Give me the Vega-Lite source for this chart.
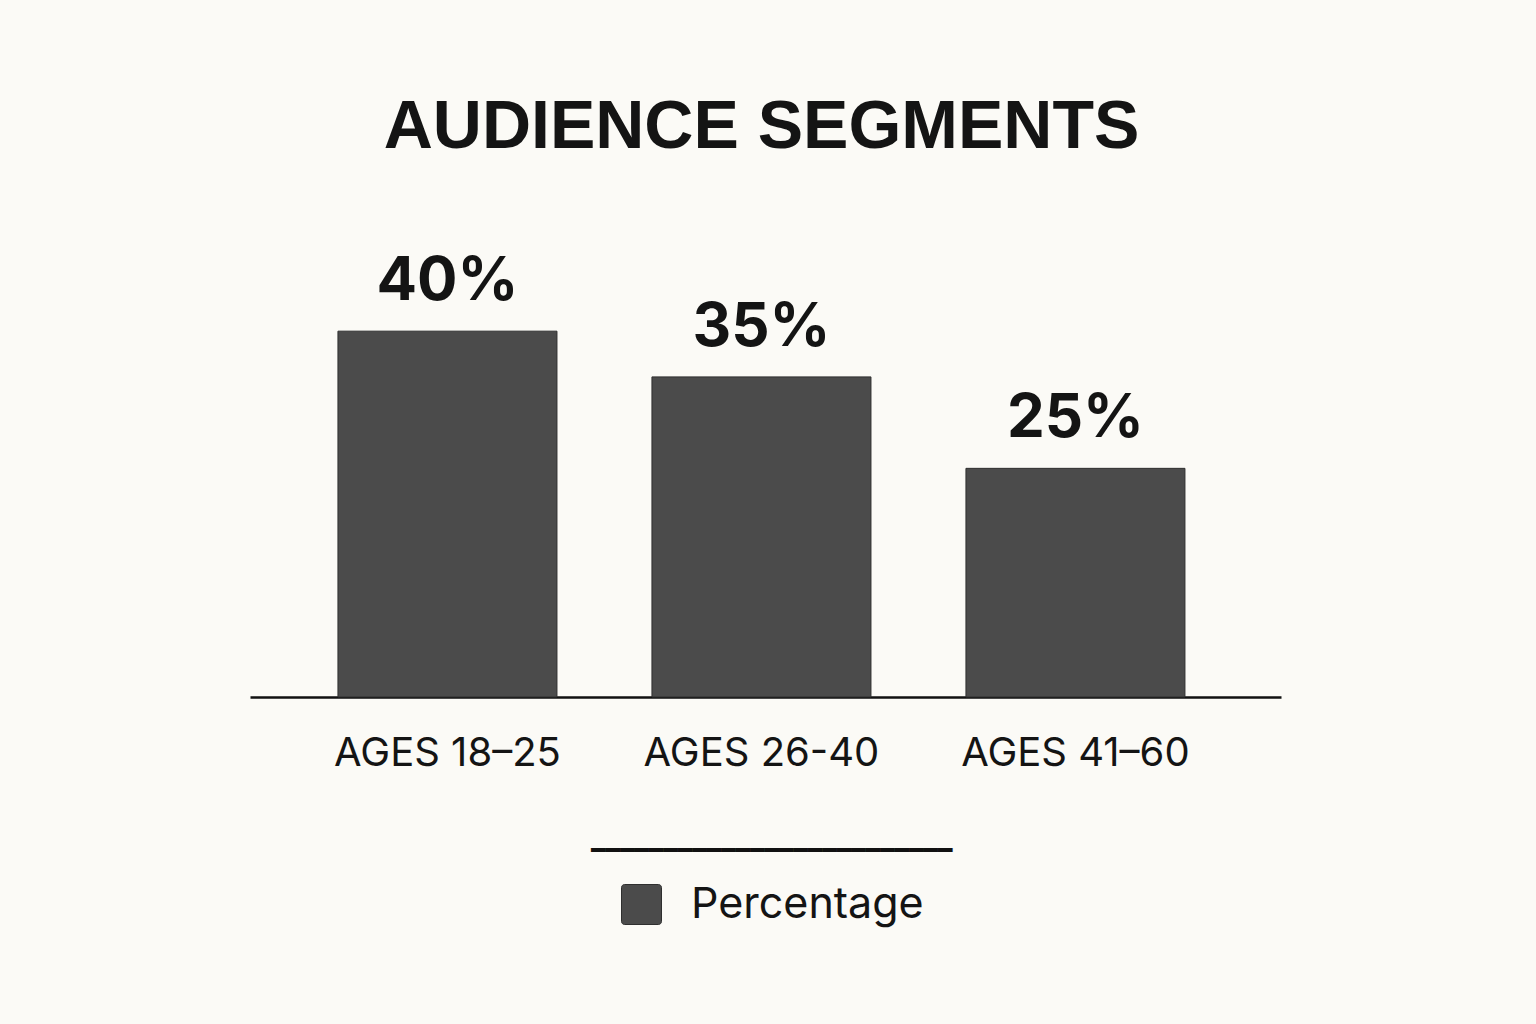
{
  "$schema": "https://vega.github.io/schema/vega-lite/v6.json",
  "width": 1031,
  "height": 439,
  "autosize": {"type": "none"},
  "padding": {"left": 250, "top": 258, "right": 255, "bottom": 327},
  "background": "#fbfaf6",
  "title": {
    "text": "AUDIENCE SEGMENTS",
    "font": "Liberation Sans",
    "fontSize": 68,
    "fontWeight": "bold",
    "color": "#141414",
    "anchor": "middle",
    "dx": -4,
    "offset": 90
  },
  "data": {
    "values": [
      {"segment": "AGES 18–25", "value": 0.40, "series": "Percentage"},
      {"segment": "AGES 26-40", "value": 0.35, "series": "Percentage"},
      {"segment": "AGES 41–60", "value": 0.25, "series": "Percentage"}
    ]
  },
  "encoding": {
    "x": {
      "field": "segment",
      "type": "nominal",
      "sort": null,
      "scale": {"paddingInner": 0.3025, "paddingOuter": 0.293, "align": 0.478},
      "axis": {
        "title": null,
        "labelAngle": 0,
        "labelFont": "Inter",
        "labelFontSize": 40,
        "labelColor": "#141414",
        "labelPadding": 36,
        "labelLimit": 0,
        "ticks": false,
        "domainColor": "#111111",
        "domainWidth": 2.5
      }
    },
    "y": {
      "field": "value",
      "type": "quantitative",
      "scale": {"domain": [0, 0.48]},
      "axis": null
    }
  },
  "layer": [
    {
      "mark": {"type": "bar", "stroke": "#2f2f2f", "strokeWidth": 1},
      "encoding": {
        "color": {
          "field": "series",
          "type": "nominal",
          "scale": {"range": ["#4b4b4b"]},
          "legend": {
            "title": "━━━━━━━━━━━━━━━━━━━━━━━━━",
            "titleFont": "DejaVu Sans Mono",
            "titleFontSize": 24,
            "titleFontWeight": "normal",
            "titleColor": "#111111",
            "titleLimit": 0,
            "titlePadding": 20,
            "orient": "none",
            "legendX": 341,
            "legendY": 581,
            "symbolType": "M-0.85,-1H0.85A0.15,0.15 0 0 1 1,-0.85V0.85A0.15,0.15 0 0 1 0.85,1H-0.85A0.15,0.15 0 0 1 -1,0.85V-0.85A0.15,0.15 0 0 1 -0.85,-1Z",
            "symbolSize": 1600,
            "symbolOffset": 29,
            "symbolStrokeColor": "#2f2f2f",
            "symbolStrokeWidth": 1,
            "labelFont": "Inter",
            "labelFontSize": 43,
            "labelColor": "#141414",
            "labelLimit": 0,
            "labelOffset": 28
          }
        }
      }
    },
    {
      "mark": {
        "type": "text",
        "font": "Inter",
        "fontSize": 60,
        "fontWeight": "bold",
        "color": "#141414",
        "baseline": "alphabetic",
        "dy": -31
      },
      "encoding": {
        "text": {"field": "value", "type": "quantitative", "format": ".0%"}
      }
    }
  ],
  "config": {"view": {"stroke": null}}
}
